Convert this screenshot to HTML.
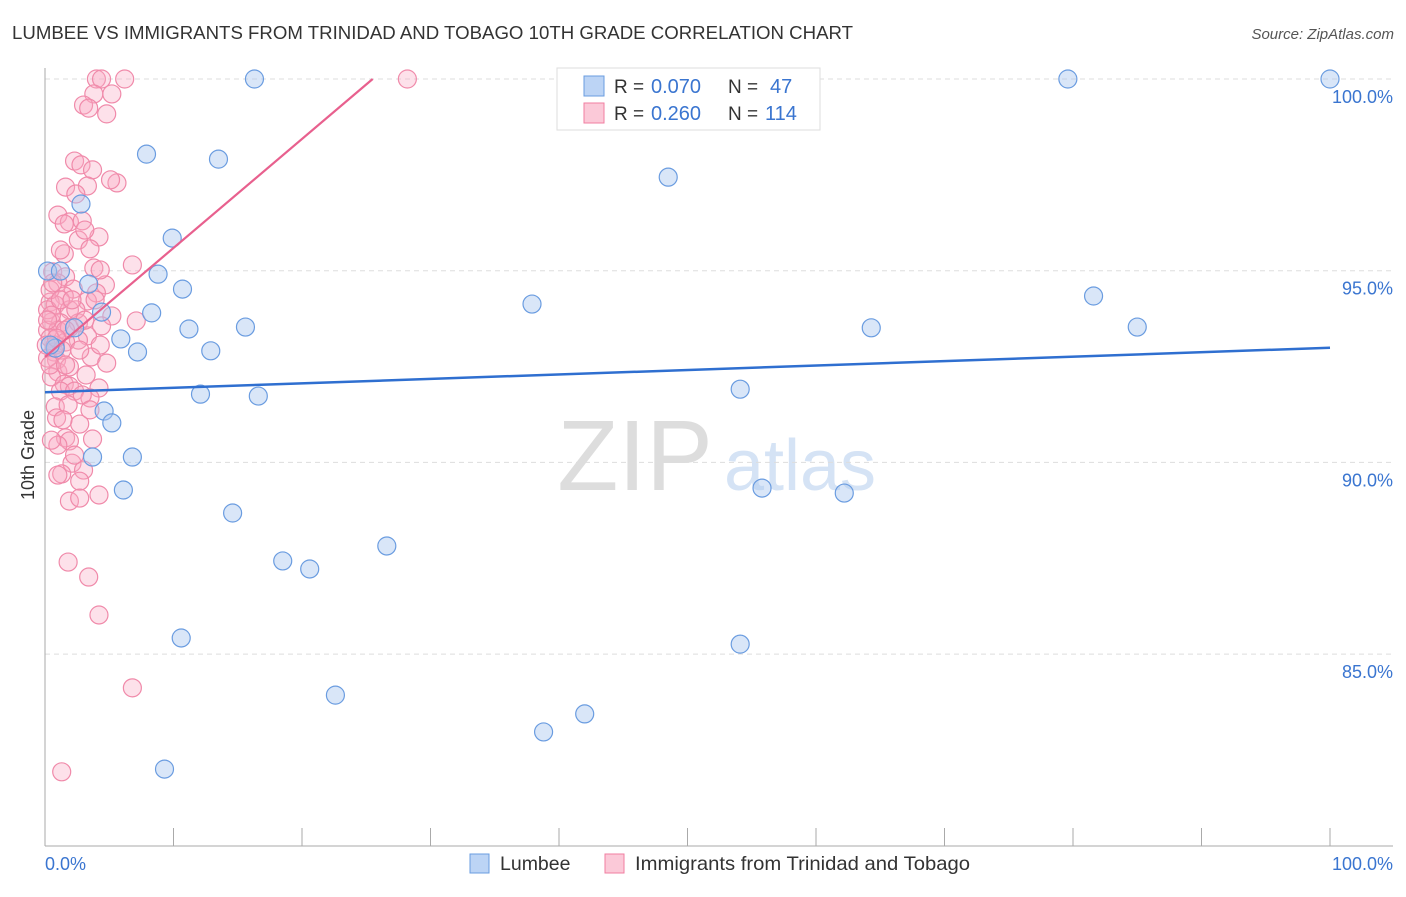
<!DOCTYPE html>
<html><head><meta charset="utf-8"><style>
body{margin:0;background:#fff;font-family:"Liberation Sans",sans-serif}
svg text{font-family:"Liberation Sans",sans-serif}
</style></head><body>
<svg id="chart" width="1406" height="892" xmlns="http://www.w3.org/2000/svg">
<text x="12" y="39" font-size="18" fill="#333" textLength="841" lengthAdjust="spacingAndGlyphs">LUMBEE VS IMMIGRANTS FROM TRINIDAD AND TOBAGO 10TH GRADE CORRELATION CHART</text>
<text x="1394" y="39" font-size="15" fill="#555" text-anchor="end" font-style="italic">Source: ZipAtlas.com</text>
<g><text x="635" y="490" font-size="100" fill="#ddd" text-anchor="middle" font-family="Liberation Serif">ZIP</text><text x="800" y="490" font-size="72" fill="#d5e3f5" text-anchor="middle">atlas</text></g>
<g id="grid"></g><g id="axes"></g><g id="pts"></g><g id="lines"></g>
<text transform="translate(34,455) rotate(-90)" font-size="18" fill="#333" text-anchor="middle">10th Grade</text>
<g>
<rect x="557" y="68" width="263" height="62" fill="#fff" stroke="#ddd"/>
<rect x="584" y="76" width="20" height="20" fill="#bcd4f5" stroke="#6a9ce0"/>
<rect x="584" y="103" width="20" height="20" fill="#fbc9d8" stroke="#f07ea0"/>
<text x="614" y="93" font-size="19" fill="#333">R =</text><text x="651" y="93" font-size="20" fill="#3a75d0">0.070</text>
<text x="728" y="93" font-size="19" fill="#333">N =</text><text x="770" y="93" font-size="20" fill="#3a75d0">47</text>
<text x="614" y="120" font-size="19" fill="#333">R =</text><text x="651" y="120" font-size="20" fill="#3a75d0">0.260</text>
<text x="728" y="120" font-size="19" fill="#333">N =</text><text x="765" y="120" font-size="20" fill="#3a75d0">114</text>
</g>
<g>
<rect x="470" y="854" width="19" height="19" fill="#bcd4f5" stroke="#6a9ce0"/>
<text x="500" y="870" font-size="19.5" fill="#333">Lumbee</text>
<rect x="605" y="854" width="19" height="19" fill="#fbc9d8" stroke="#f07ea0"/>
<text x="635" y="870" font-size="19.5" fill="#333" textLength="335" lengthAdjust="spacingAndGlyphs">Immigrants from Trinidad and Tobago</text>
</g>
</svg>
<script>
const blueX=[16.3,79.6,100,7.9,13.5,48.5,2.8,9.9,8.8,0.2,1.2,3.4,10.7,81.6,37.9,8.3,4.4,2.3,11.2,15.6,64.3,85.0,5.9,7.2,12.9,0.8,54.1,12.1,16.6,4.6,5.2,3.7,6.8,6.1,55.8,62.2,14.6,26.6,18.5,20.6,10.6,54.1,22.6,42.0,38.8,9.3,0.4];
const blueY=[100,100,100,98.04,97.91,97.44,96.74,95.85,94.91,94.99,94.99,94.65,94.52,94.34,94.13,93.90,93.92,93.51,93.48,93.53,93.51,93.53,93.22,92.88,92.91,92.98,91.91,91.78,91.73,91.34,91.03,90.14,90.14,89.28,89.33,89.20,88.68,87.82,87.43,87.22,85.42,85.26,83.93,83.44,82.97,82.00,93.06];
const pinkX=[4.0,4.4,6.2,28.2,3.8,5.2,3.0,3.4,4.8,2.3,2.8,3.7,5.6,1.6,3.3,2.4,1.0,1.9,2.9,1.5,4.2,2.6,3.5,1.5,6.8,3.8,0.6,1.6,1.0,4.7,2.2,4.0,1.5,3.3,0.4,0.8,1.9,5.2,7.1,0.5,1.2,2.6,4.4,0.2,1.0,3.3,0.4,2.6,1.6,0.7,3.6,4.8,0.9,1.0,1.9,3.2,0.5,1.5,1.9,4.2,1.2,2.3,3.5,0.8,1.8,0.9,2.7,1.6,1.9,3.7,1.0,2.1,3.0,1.3,2.7,1.0,4.2,1.9,2.7,1.8,3.4,4.2,6.8,1.3,0.4,0.2,0.1,0.2,0.8,1.3,1.9,1.2,2.4,0.5,2.7,3.9,0.4,1.6,3.1,0.9,4.3,0.6,2.1,0.2,1.6,2.9,1.4,0.5,3.5,2.3,5.1,3.1,1.2,4.3];
const pinkY=[100,100,100,100,99.61,99.61,99.32,99.24,99.09,97.86,97.76,97.63,97.29,97.18,97.21,97.00,96.45,96.27,96.30,96.22,95.88,95.80,95.57,95.44,95.15,95.07,94.97,94.84,94.68,94.63,94.52,94.42,94.34,94.21,94.18,94.11,93.98,93.82,93.69,93.66,93.64,93.64,93.56,93.45,93.45,93.30,93.24,93.19,93.14,92.88,92.75,92.59,92.67,92.36,92.49,92.28,92.23,92.04,91.99,91.94,91.86,91.86,91.68,91.45,91.50,91.16,91.00,90.64,90.56,90.61,90.45,89.98,89.80,89.70,89.51,89.67,89.15,88.99,89.07,87.40,87.01,86.02,84.12,81.93,94.50,93.98,93.06,92.72,93.06,92.93,93.51,94.24,93.98,93.84,92.93,94.24,92.54,93.45,93.71,93.24,93.06,94.68,94.24,93.71,92.54,91.76,91.11,90.58,91.37,90.19,97.37,96.06,95.54,95.02];
const yTicks=[100,95,90,85];
const yTickLabels=["100.0%","95.0%","90.0%","85.0%"];
const blueLine=[91.83,92.99];
const pinkLine=[92.75,100];
const pinkLineEndX=25.5;
const X0=45,X1=1330,YT=79,PX5=191.7;
const sx=v=>X0+(X1-X0)*v/100;
const sy=v=>YT+(100-v)/5*PX5;
const NS="http://www.w3.org/2000/svg";
function mk(tag,attrs,parent){const e=document.createElementNS(NS,tag);for(const k in attrs)e.setAttribute(k,attrs[k]);parent.appendChild(e);return e;}
const grid=document.getElementById('grid'),axes=document.getElementById('axes'),pts=document.getElementById('pts'),lines=document.getElementById('lines');
yTicks.forEach((t,i)=>{
 const l=mk('line',{x1:X0,x2:1393,y1:sy(t),y2:sy(t),stroke:'#ddd','stroke-dasharray':'5,4'},grid);
 
 
 const tx=mk('text',{x:1393,y:sy(t)+24,'font-size':18,fill:'#3a75d0','text-anchor':'end'},axes);
 tx.textContent=yTickLabels[i];
 
 
});
const ax=mk('line',{x1:X0,x2:X0,y1:68,y2:846,stroke:'#aaa'},axes);


const bx=mk('line',{x1:X0,x2:1393,y1:846,y2:846,stroke:'#aaa'},axes);


for(let i=0;i<=10;i++){const t=mk('line',{x1:sx(i*10),x2:sx(i*10),y1:828,y2:846,stroke:'#aaa'},axes);
 
 }
const xl=mk('text',{x:45,y:870,'font-size':18,fill:'#3a75d0'},axes);xl.textContent='0.0%';


const xr=mk('text',{x:1393,y:870,'font-size':18,fill:'#3a75d0','text-anchor':'end'},axes);xr.textContent='100.0%';


pinkX.forEach((v,i)=>{const c=mk('circle',{cx:sx(v),cy:sy(pinkY[i]),r:9,fill:'rgba(248,170,195,0.35)',stroke:'#f08aaa','stroke-width':1.2},pts);
 
 });
blueX.forEach((v,i)=>{const c=mk('circle',{cx:sx(v),cy:sy(blueY[i]),r:9,fill:'rgba(170,200,240,0.45)',stroke:'#6a9ce0','stroke-width':1.2},pts);
 
 });
const bl=mk('line',{x1:sx(0),y1:sy(blueLine[0]),x2:sx(100),y2:sy(blueLine[1]),stroke:'#2f6fd0','stroke-width':2.5},lines);


const pl=mk('line',{x1:sx(0),y1:sy(pinkLine[0]),x2:sx(pinkLineEndX),y2:sy(pinkLine[1]),stroke:'#e8608e','stroke-width':2.2},lines);


</script>
</body></html>
